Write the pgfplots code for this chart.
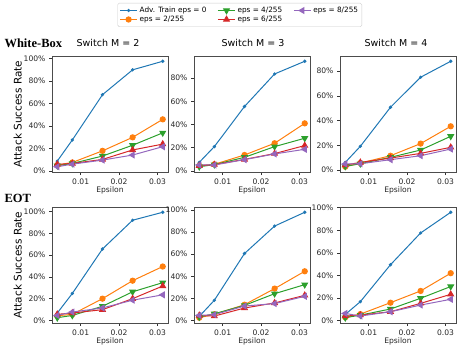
\documentclass[border=0pt]{standalone}
\usepackage{fontspec}
\setmainfont{DejaVu Sans}
\newfontfamily\titleserif{Liberation Serif}
\usepackage{pgfplots}
\usepackage{pgfplotstable}
\pgfplotsset{compat=1.18}

\definecolor{c0}{HTML}{1F77B4}
\definecolor{c2}{HTML}{FF7F0E}
\definecolor{c4}{HTML}{2CA02C}
\definecolor{c6}{HTML}{D62728}
\definecolor{c8}{HTML}{9467BD}

% columns: epsilon, adv. train eps = 0, 2/255, 4/255, 6/255, 8/255  (values in %)
\pgfplotstableread{
x       a0    a2    a4    a6    a8
0.00392 8.9   5.4   4.8   6.0   3.9
0.00784 27.7  7.7   6.8   6.8   6.2
0.01569 67.9  18.0  13.4  10.4  9.8
0.02353 90.0  30.0  23.0  18.8  14.3
0.03137 97.6  46.0  34.0  24.0  21.7
}\wbtwo
\pgfplotstableread{
x       a0    a2    a4    a6    a8
0.00392 7.5   4.6   3.7   4.6   5.2
0.00784 21.0  5.8   5.5   5.5   5.2
0.01569 55.5  13.8  11.8  10.0  9.8
0.02353 83.5  23.9  21.0  15.0  14.7
0.03137 94.4  41.0  28.2  21.9  18.7
}\wbthree
\pgfplotstableread{
x       a0    a2    a4    a6    a8
0.00392 6.2   2.7   3.0   4.0   4.9
0.00784 19.2  5.7   5.1   6.2   5.1
0.01569 50.8  11.6  10.3  9.7   8.4
0.02353 75.1  21.4  16.2  13.5  11.6
0.03137 88.0  35.4  27.3  18.4  17.0
}\wbfour
\pgfplotstableread{
x       a0    a2    a4    a6    a8
0.00392 6.8   4.3   2.5   5.6   4.6
0.00784 24.8  5.6   4.6   6.8   7.7
0.01569 65.6  20.0  13.0  9.9   11.5
0.02353 92.0  36.5  26.3  20.0  18.6
0.03137 99.3  49.5  34.7  31.6  23.5
}\eottwo
\pgfplotstableread{
x       a0    a2    a4    a6    a8
0.00392 3.6   2.4   3.0   4.5   4.5
0.00784 18.2  5.5   6.0   3.9   5.2
0.01569 60.6  14.2  13.6  11.2  13.0
0.02353 85.5  28.8  24.2  15.8  15.2
0.03137 98.0  44.5  32.4  22.7  21.8
}\eotthree
\pgfplotstableread{
x       a0    a2    a4    a6    a8
0.00392 5.6   3.0   2.7   4.2   6.5
0.00784 16.9  5.9   5.0   5.0   4.2
0.01569 49.6  16.0  10.4  8.0   8.0
0.02353 77.7  26.4  19.9  15.4  13.9
0.03137 96.0  42.1  30.3  23.4  19.0
}\eotfour

\pgfplotsset{
  s0/.style={color=c0, line width=1pt, mark=*, mark size=1.1pt, mark options={solid}},
  s2/.style={color=c2, line width=1pt, mark=*, mark size=2.6pt, mark options={solid}},
  s4/.style={color=c4, line width=1pt, mark=triangle*, mark size=3.2pt, mark options={solid, rotate=180}},
  s6/.style={color=c6, line width=1pt, mark=triangle*, mark size=3.2pt, mark options={solid}},
  s8/.style={color=c8, line width=1pt, mark=triangle*, mark size=3.2pt, mark options={solid, rotate=90}},
  panel/.style={
    scale only axis, width=116pt, height=116pt,
    anchor=north west,
    enlarge x limits=0.05, enlarge y limits=0.05,
    xtick={0.01,0.02,0.03},
    xticklabels={0.01,0.02,0.03},
    scaled x ticks=false,
    ytick={0,20,...,100},
    yticklabel={\pgfmathprintnumber{\tick}\%},
    /pgf/number format/assume math mode=true,
    tick pos=left, tick align=outside,
    major tick length=3pt,
    tick style={black!80, line width=0.6pt},
    tick label style={font=\fontsize{7.6}{8}\selectfont, text=black!85},
    axis line style={black!70, line width=0.7pt},
    xlabel={Epsilon},
    xlabel style={font=\fontsize{7.6}{8}\selectfont, text=black!85, yshift=4pt},
  },
  leftpanel/.style={
    ylabel={Attack Success Rate},
    ylabel style={font=\fontsize{10.5}{11}\selectfont, yshift=-5pt},
  },
}

\newcommand{\series}[1]{%
  \addplot[s0] table[x=x, y=a0] {#1};
  \addplot[s2] table[x=x, y=a2] {#1};
  \addplot[s4] table[x=x, y=a4] {#1};
  \addplot[s6] table[x=x, y=a6] {#1};
  \addplot[s8] table[x=x, y=a8] {#1};
}

\begin{document}
\begin{tikzpicture}
\useasboundingbox (0pt,0pt) rectangle (466pt,-353pt);

% top row: White-Box
\begin{axis}[panel, leftpanel, at={(52pt,-56pt)}]
\series{\wbtwo}
\end{axis}

\begin{axis}[panel, at={(194pt,-56pt)}]
\series{\wbthree}
\end{axis}

\begin{axis}[panel, at={(340pt,-56pt)}]
\series{\wbfour}
\end{axis}

% shared legend, entries in column-major order
\begin{axis}[at={(194pt,-56pt)}, anchor=north west, scale only axis, width=116pt, height=116pt,
  hide axis, xmin=0, xmax=1, ymin=0, ymax=1,
  legend columns=3,
  legend style={at={(0.395,1.457)}, anchor=north, draw=black!20, rounded corners=1.5pt,
    font=\fontsize{7.3}{8}\selectfont, row sep=-2pt, inner sep=1.8pt,
    /tikz/every even column/.append style={column sep=9pt}},
  legend cell align=left]
\addlegendimage{s0}\addlegendentry{Adv. Train eps = 0}
\addlegendimage{s4}\addlegendentry{eps = 4/255}
\addlegendimage{s8}\addlegendentry{eps = 8/255}
\addlegendimage{s2}\addlegendentry{eps = 2/255}
\addlegendimage{s6}\addlegendentry{eps = 6/255}
\end{axis}

% bottom row: EOT
\begin{axis}[panel, leftpanel, at={(52pt,-207pt)}]
\series{\eottwo}
\end{axis}

\begin{axis}[panel, at={(194pt,-207pt)}]
\series{\eotthree}
\end{axis}

\begin{axis}[panel, at={(340pt,-207pt)}]
\series{\eotfour}
\end{axis}

% titles
\node[font=\fontsize{9.5}{10}\selectfont] at (108pt,-43pt) {Switch M = 2};
\node[font=\fontsize{9.5}{10}\selectfont] at (253pt,-43pt) {Switch M = 3};
\node[font=\fontsize{9.5}{10}\selectfont] at (396pt,-43pt) {Switch M = 4};
\node[font=\titleserif\bfseries\fontsize{12.5}{13}\selectfont, anchor=west] at (1pt,-43pt) {White-Box};
\node[font=\titleserif\bfseries\fontsize{12.5}{13}\selectfont, anchor=west] at (1pt,-198pt) {EOT};
\end{tikzpicture}
\end{document}
